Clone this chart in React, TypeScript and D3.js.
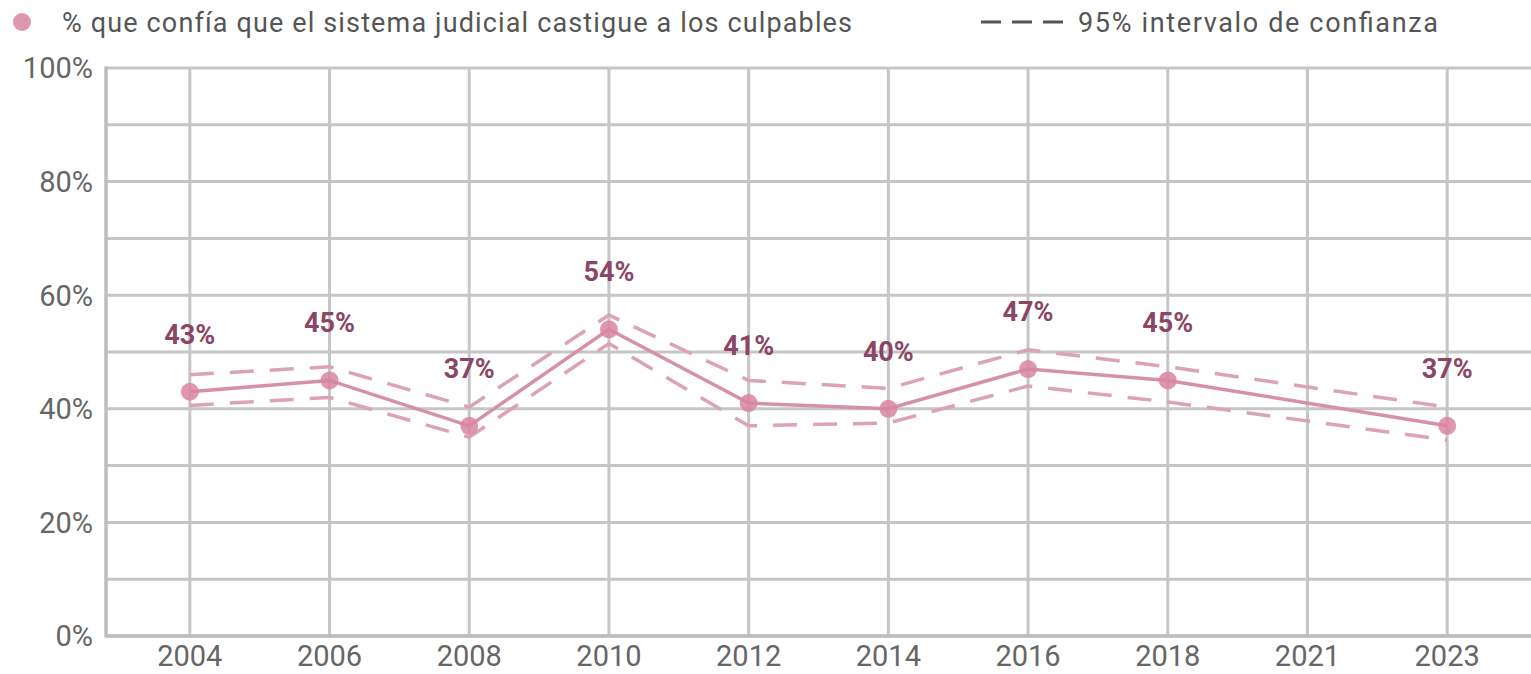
import React from 'react';
import * as d3 from 'd3';

const YEARS = ['2004', '2006', '2008', '2010', '2012', '2014', '2016', '2018', '2021', '2023'];
const VALUES: (number | null)[] = [43, 45, 37, 54, 41, 40, 47, 45, null, 37];
const UPPER: (number | null)[] = [46, 47.4, 40.3, 56.5, 45, 43.6, 50.4, 47.4, null, 40.3];
const LOWER: (number | null)[] = [40.6, 42, 35, 51.5, 37, 37.5, 44, 41.2, null, 34.5];
const Y_TICKS = [0, 20, 40, 60, 80, 100];
const Y_GRID = d3.range(0, 101, 10);

const W = 1531;
const H = 674;
const LEFT = 106;
const TOP = 68;
const BOTTOM = 636;

const GRID = '#c6c6c6';
const LINE = '#d690a8';
const DOT = '#d985a2';
const CI = '#dba3b5';
const LABEL = '#8b4565';
const TICK = '#666666';

const App: React.FC = () => {
  const x = d3.scalePoint<string>().domain(YEARS).range([LEFT, W]).padding(0.6);
  const y = d3.scaleLinear().domain([0, 100]).range([BOTTOM, TOP]);

  const pts = (arr: (number | null)[]) =>
    YEARS.map((yr, i) => ({ yr, v: arr[i] })).filter((d) => d.v !== null) as { yr: string; v: number }[];

  const line = d3
    .line<{ yr: string; v: number }>()
    .x((d) => x(d.yr)!)
    .y((d) => y(d.v));

  const font = 'Roboto, "Noto Sans", sans-serif';

  return (
    <svg width={W} height={H} style={{ position: 'absolute', left: 0, top: 0, background: '#fff' }}>
      {/* legend */}
      <circle cx={22} cy={22} r={9} fill={DOT} opacity={0.85} />
      <text x={62} y={32} fontFamily={font} fontSize={27} fill="#555" textLength={790} lengthAdjust="spacing">
        % que confía que el sistema judicial castigue a los culpables
      </text>
      <line x1={981} x2={1064} y1={22} y2={22} stroke="#555" strokeWidth={3} strokeDasharray="20,11" />
      <text x={1078} y={32} fontFamily={font} fontSize={27} fill="#555" textLength={360} lengthAdjust="spacing">
        95% intervalo de confianza
      </text>

      {/* grid */}
      {Y_GRID.map((t) => (
        <line key={'h' + t} x1={LEFT} x2={W} y1={y(t)} y2={y(t)} stroke={GRID} strokeWidth={3} />
      ))}
      {YEARS.map((yr) => (
        <line key={'v' + yr} x1={x(yr)} x2={x(yr)} y1={TOP} y2={BOTTOM} stroke={GRID} strokeWidth={3} />
      ))}
      <line x1={LEFT} x2={LEFT} y1={TOP - 1.5} y2={BOTTOM + 1.5} stroke="#bdbdbd" strokeWidth={3.5} />
      <line x1={LEFT} x2={W} y1={BOTTOM} y2={BOTTOM} stroke="#bdbdbd" strokeWidth={3.5} />

      {/* tick labels */}
      {Y_TICKS.map((t) => (
        <text key={'yt' + t} x={93} y={y(t)} dy="0.36em" textAnchor="end" fontFamily={font} fontSize={29} fill={TICK}>
          {t}%
        </text>
      ))}
      {YEARS.map((yr) => (
        <text key={'xt' + yr} x={x(yr)} y={666} textAnchor="middle" fontFamily={font} fontSize={29} fill={TICK}>
          {yr}
        </text>
      ))}

      {/* confidence interval */}
      <path d={line(pts(UPPER))!} fill="none" stroke={CI} strokeWidth={3.5} strokeDasharray="24,16" />
      <path d={line(pts(LOWER))!} fill="none" stroke={CI} strokeWidth={3.5} strokeDasharray="24,16" />

      {/* main series */}
      <path d={line(pts(VALUES))!} fill="none" stroke={LINE} strokeWidth={3.5} />
      {pts(VALUES).map((d) => (
        <circle key={'c' + d.yr} cx={x(d.yr)} cy={y(d.v)} r={9} fill={DOT} opacity={0.85} />
      ))}
      {pts(VALUES).map((d) => (
        <text
          key={'l' + d.yr}
          x={x(d.yr)}
          y={y(d.v) - 48}
          textAnchor="middle"
          fontFamily={font}
          fontWeight="bold"
          fontSize={27}
          fill={LABEL}
        >
          {d.v}%
        </text>
      ))}
    </svg>
  );
};

export default App;
